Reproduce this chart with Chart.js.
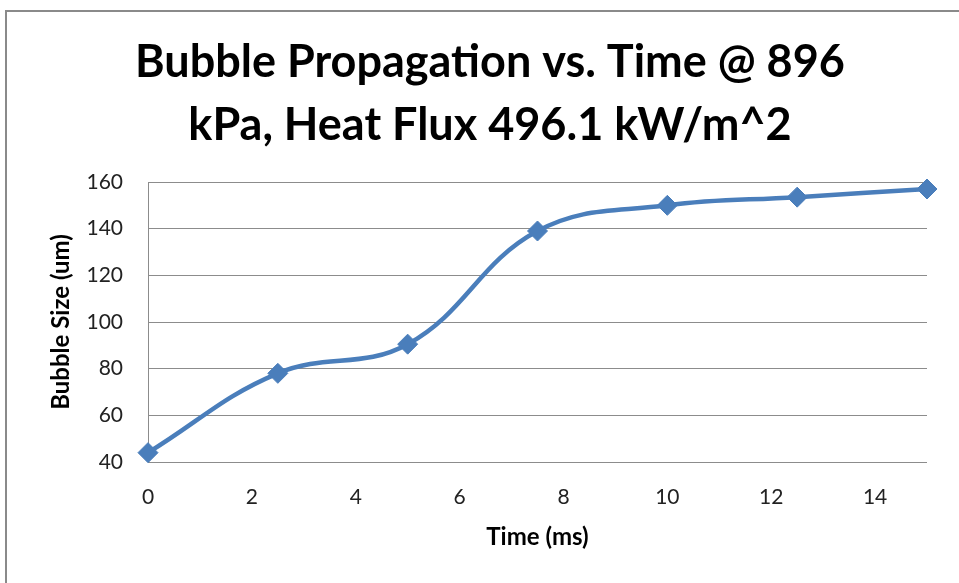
<!DOCTYPE html>
<html>
<head>
<meta charset="utf-8">
<script src="https://cdn.jsdelivr.net/npm/chart.js@4/dist/chart.umd.min.js"></script>
<style>
  html, body { margin: 0; padding: 0; background: #fff; overflow: hidden; }
  #wrap { position: relative; width: 959px; height: 583px; }
  #frame { position: absolute; left: 5px; top: 10px; width: 1000px; height: 1000px; border: 2px solid #8a8a8a; }
  canvas { position: absolute; left: 0; top: 0; }
</style>
</head>
<body>
<div id="wrap">
  <div id="frame"></div>
  <canvas id="chart" width="959" height="583"></canvas>
</div>
<script>
const titleLines = ['Bubble Propagation vs. Time @ 896', 'kPa, Heat Flux 496.1 kW/m^2']
const timeMs = [0, 2.5, 5, 7.5, 10, 12.5, 15]
const bubbleSize = [44, 78, 90.5, 139, 150, 153.5, 157]
const xTickValues = [0, 2, 4, 6, 8, 10, 12, 14]
const yTickValues = [40, 60, 80, 100, 120, 140, 160]

const FONT = 'Lato, "Open Sans", sans-serif'
const blue = '#4a7ebb'
const gridGray = '#8c8c8c'

new Chart(document.getElementById('chart'), {
  type: 'line',
  data: {
    datasets: [{
      data: timeMs.map((t, i) => ({ x: t, y: bubbleSize[i] })),
      borderColor: blue,
      backgroundColor: blue,
      borderWidth: 4.5,
      tension: 0.4,
      clip: false,
      pointStyle: 'rectRot',
      pointRadius: 10,
      pointHoverRadius: 10,
      pointBorderWidth: 1,
    }],
  },
  options: {
    responsive: false,
    animation: false,
    // uneven side padding keeps the title centred over the frame, not the canvas
    layout: { padding: { left: 53, right: 32, top: 0, bottom: 0 } },
    plugins: {
      legend: { display: false },
      tooltip: { enabled: false },
      title: {
        display: true,
        text: titleLines,
        color: '#000',
        font: { family: FONT, size: 45, weight: 'bold', lineHeight: 1.4 },
        padding: { top: 30.5, bottom: 25.5 },
      },
    },
    scales: {
      x: {
        type: 'linear',
        min: 0,
        max: 15,
        afterBuildTicks: (scale) => { scale.ticks = xTickValues.map(v => ({ value: v })) },
        afterFit: (scale) => { scale.height = 121 },
        grid: { display: false, drawTicks: false },
        border: { display: false },
        ticks: { color: '#222', padding: 23, maxRotation: 0, font: { family: FONT, size: 21 } },
        title: {
          display: true,
          text: 'Time (ms)',
          color: '#000',
          font: { family: FONT, size: 24, weight: 'bold', lineHeight: 1.2 },
          padding: { top: 0, bottom: 31.5 },
        },
      },
      y: {
        min: 40,
        max: 160,
        afterBuildTicks: (scale) => { scale.ticks = yTickValues.map(v => ({ value: v })) },
        afterFit: (scale) => { scale.width = 95 },
        grid: { color: gridGray, lineWidth: 1, drawTicks: false },
        border: { display: true, color: gridGray, width: 1 },
        ticks: { color: '#222', padding: 25, font: { family: FONT, size: 21 } },
        title: {
          display: true,
          text: 'Bubble Size (um)',
          color: '#000',
          font: { family: FONT, size: 24, weight: 'bold', lineHeight: 1.2 },
          padding: { top: -6.4, bottom: 0 },
        },
      },
    },
  },
})
</script>
</body>
</html>
